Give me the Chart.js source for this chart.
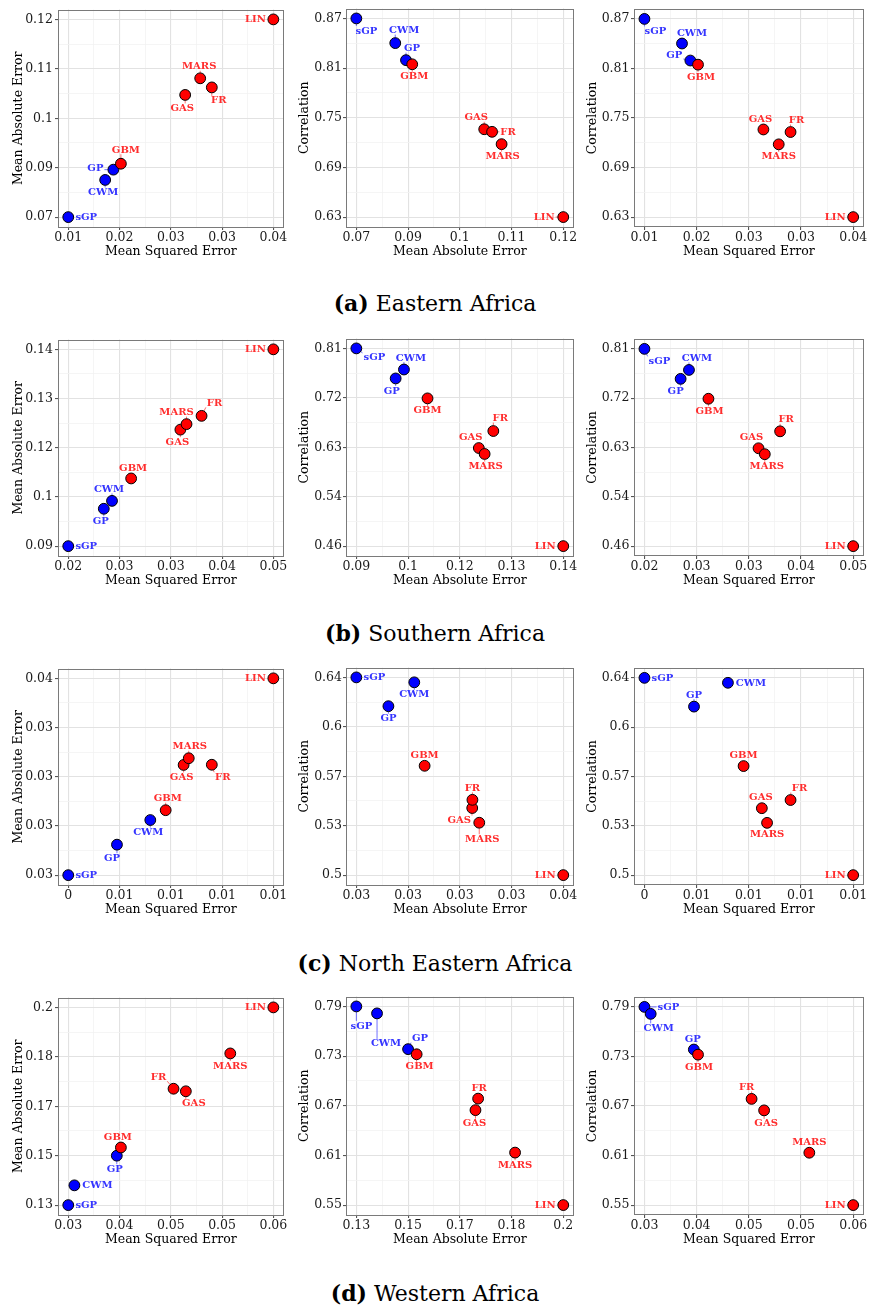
<!DOCTYPE html>
<html><head><meta charset="utf-8">
<script src="https://cdn.jsdelivr.net/npm/chart.js@4.4.1/dist/chart.umd.min.js"></script>
<style>
html,body{margin:0;padding:0;background:#fff;}
body{width:870px;height:1310px;position:relative;overflow:hidden;}
canvas{position:absolute;}
.cap{position:absolute;left:0;width:870px;text-align:center;font-family:"DejaVu Serif",serif;font-size:22px;line-height:22px;color:#000;}
</style></head><body>
<div class="cap" style="top:292px"><b>(a)</b> Eastern Africa</div>
<div class="cap" style="top:622px"><b>(b)</b> Southern Africa</div>
<div class="cap" style="top:952px"><b>(c)</b> North Eastern Africa</div>
<div class="cap" style="top:1282px"><b>(d)</b> Western Africa</div>
<script>
// ---------------- DATA ----------------
const models = ['sGP','CWM','GP','GBM','GAS','FR','MARS','LIN'];
const proposed = ['sGP','CWM','GP'];

const eastMSE  = [0.0100, 0.0154, 0.0166, 0.0177, 0.0271, 0.0310, 0.0293, 0.0400];
const eastMAE  = [0.0700, 0.0794, 0.0820, 0.0835, 0.1009, 0.1028, 0.1051, 0.1200];
const eastCorr = [0.870, 0.8402, 0.8196, 0.8146, 0.7361, 0.7330, 0.7181, 0.630];

const southMSE  = [0.0200, 0.0264, 0.0252, 0.0292, 0.0364, 0.0395, 0.0373, 0.0500];
const southMAE  = [0.0900, 0.1015, 0.0995, 0.1072, 0.1196, 0.1231, 0.1210, 0.1400];
const southCorr = [0.810, 0.7726, 0.7568, 0.7215, 0.6336, 0.6637, 0.6231, 0.460];

const neMSE  = [0.0040, 0.0072, 0.0059, 0.0078, 0.0085, 0.0096, 0.0087, 0.0120];
const neMAE  = [0.0260, 0.0288, 0.02755, 0.0293, 0.0316, 0.03161, 0.03194, 0.0360];
const neCorr = [0.640, 0.6365, 0.6196, 0.5774, 0.5475, 0.5533, 0.5371, 0.500];

const westMSE  = [0.0300, 0.0309, 0.0371, 0.0377, 0.0472, 0.0454, 0.0537, 0.0600];
const westMAE  = [0.1300, 0.1370, 0.1475, 0.1504, 0.1703, 0.1712, 0.1837, 0.2000];
const westCorr = [0.790, 0.7816, 0.7384, 0.7322, 0.6647, 0.6786, 0.6134, 0.550];

// axis extents (first / last tick)
const eastMSERange = [0.01, 0.04], eastMAERange = [0.07, 0.12], eastCorrRange = [0.63, 0.87];
const southMSERange = [0.02, 0.05], southMAERange = [0.09, 0.14], southCorrRange = [0.46, 0.81];
const neMSERange = [0.004, 0.012], neMAERange = [0.026, 0.036], neCorrRange = [0.50, 0.64];
const westMSERange = [0.03, 0.06], westMAERange = [0.13, 0.20], westCorrRange = [0.55, 0.79];

// tick labels
const eastMSETicks  = ['0.01','0.02','0.03','0.03','0.04'];
const eastMAETicks  = ['0.07','0.09','0.1','0.11','0.12'];
const eastCorrTicks = ['0.63','0.69','0.75','0.81','0.87'];
const southMSETicks  = ['0.02','0.03','0.03','0.04','0.05'];
const southMAETicks  = ['0.09','0.1','0.12','0.13','0.14'];
const southCorrTicks = ['0.46','0.54','0.63','0.72','0.81'];
const neMSETicks  = ['0','0.01','0.01','0.01','0.01'];
const neMAETicks  = ['0.03','0.03','0.03','0.03','0.04'];
const neCorrTicks = ['0.5','0.53','0.57','0.6','0.64'];
const westMSETicks  = ['0.03','0.04','0.05','0.05','0.06'];
const westMAETicks  = ['0.13','0.15','0.17','0.18','0.2'];
const westCorrTicks = ['0.55','0.61','0.67','0.73','0.79'];

// ---------------- LAYOUT / STYLE ----------------
const FONT = '"DejaVu Serif", serif';
const RED = '#ff0000', BLUE = '#0000ff';
const RED_TXT = '#ff2e2e', BLUE_TXT = '#3535ff';
// label offsets (px) from point, order of models
const LBL = {
  E1: [[18,0],[-2,12],[-18,-2],[5,-14],[-3,13],[7,13],[-1,-12],[-18,0]],
  E2: [[10,12],[9,-13],[6,-12],[2,12],[-8,-12],[16,0],[1,12],[-19,0]],
  E3: [[11,12],[10,-11],[-16,-6],[3,12],[-3,-11],[6,-12],[0,12],[-18,0]],
  S1: [[18,0],[-3,-12],[-3,12],[2,-11],[-3,12],[13,-13],[-10,-12],[-18,0]],
  S2: [[18,9],[7,-12],[-4,12],[0,12],[-8,-11],[7,-13],[1,12],[-18,0]],
  S3: [[15,12],[8,-12],[-5,12],[1,12],[-7,-11],[6,-12],[2,12],[-18,0]],
  N1: [[18,0],[-2,12],[-5,13],[2,-12],[-2,12],[11,12],[1,-12],[-18,0]],
  N2: [[18,0],[0,12],[0,12],[0,-11],[-13,12],[0,-12],[3,16],[-18,0]],
  N3: [[18,0],[23,0],[0,-12],[0,-11],[-1,-11],[9,-12],[0,11],[-18,0]],
  W1: [[18,0],[23,0],[-2,13],[-3,-11],[8,12],[-15,-12],[0,12],[-18,0]],
  W2: [[5,19],[9,30],[12,-11],[3,12],[-1,13],[1,-11],[0,12],[-18,0]],
  W3: [[24,0],[8,14],[-1,-11],[1,12],[2,13],[-5,-12],[0,-11],[-18,0]]
};
const COLS = [
  {left:0,   yw:58, pr:2, ytp:11, tp:2},
  {left:290, yw:56, pr:3, ytp:7.5,  tp:1},
  {left:580, yw:54, pr:6, ytp:5.5,  tp:1.5}
];
const ROWS = [{top:0,h:270},{top:330,h:269},{top:659,h:269},{top:988,h:270}];

const R = 5.4;
const LFONT = 'bold 10px ' + FONT;

const labelPlugin = {
  id: 'lbl',
  beforeDatasetsDraw(chart, args, opts) {
    const ctx = chart.ctx, meta = chart.getDatasetMeta(0);
    ctx.save();
    ctx.font = LFONT;
    meta.data.forEach((pt, i) => {
      const [dx, dy] = opts.offsets[i];
      const cx = pt.x + dx, cy = pt.y + dy;
      const w = ctx.measureText(models[i]).width;
      const x0 = cx - w/2 - 1, x1 = cx + w/2 + 1, y0 = cy - 4.5, y1 = cy + 4.5;
      const nx = Math.min(Math.max(pt.x, x0), x1), ny = Math.min(Math.max(pt.y, y0), y1);
      const d = Math.hypot(nx - pt.x, ny - pt.y);
      if (d - R > 1.5) {
        const ux = (nx - pt.x)/d, uy = (ny - pt.y)/d;
        ctx.strokeStyle = proposed.includes(models[i]) ? BLUE_TXT : RED_TXT;
        ctx.lineWidth = 0.7;
        ctx.beginPath();
        ctx.moveTo(pt.x + ux*R, pt.y + uy*R);
        ctx.lineTo(nx, ny);
        ctx.stroke();
      }
    });
    ctx.restore();
  },
  afterDatasetsDraw(chart, args, opts) {
    const ctx = chart.ctx, meta = chart.getDatasetMeta(0);
    ctx.save();
    ctx.font = LFONT;
    ctx.textAlign = 'center';
    ctx.textBaseline = 'middle';
    meta.data.forEach((pt, i) => {
      const [dx, dy] = opts.offsets[i];
      ctx.fillStyle = proposed.includes(models[i]) ? BLUE_TXT : RED_TXT;
      ctx.fillText(models[i], pt.x + dx, pt.y + dy + 0.5);
    });
    const a = chart.chartArea;
    ctx.strokeStyle = '#7a7a7a';
    ctx.lineWidth = 1;
    ctx.strokeRect(Math.round(a.left)+0.5, Math.round(a.top)+0.5, Math.round(a.right-a.left)-1, Math.round(a.bottom-a.top)-1);
    ctx.restore();
  }
};

function axisCfg(range, labels, title, isX, col) {
  const span = range[1] - range[0];
  return {
    type: 'linear',
    min: range[0] - 0.05*span,
    max: range[1] + 0.05*span,
    afterBuildTicks: s => { s.ticks = [0,1,2,3,4,5,6,7,8].map(k => ({value: range[0] + k*span/8})); },
    afterFit: s => { if (isX) s.height = 43; else s.width = col.yw; },
    ticks: {
      autoSkip: false, maxRotation: 0, minRotation: 0,
      padding: isX ? 0.5 : col.tp,
      color: '#1a1a1a',
      font: {family: FONT, size: 12.5},
      callback: (v, i) => (i % 2 === 0 ? labels[i/2] : '')
    },
    grid: {
      color: c => (c.index % 2 === 0 ? '#e2e2e2' : '#f2f2f2'),
      lineWidth: c => (c.index % 2 === 0 ? 1.1 : 0.8),
      tickLength: 3,
      tickColor: c => (c.index % 2 === 0 ? '#555' : 'rgba(0,0,0,0)'),
      drawTicks: true
    },
    border: {display: false},
    title: {
      display: true, text: title, color: '#000',
      font: {family: FONT, size: 12.5},
      padding: isX ? {top: 0, bottom: 10.5} : {top: col.ytp, bottom: 0}
    }
  };
}

function makeChart(key, row, colIdx, xs, ys, xRange, yRange, xTicks, yTicks, xTitle, yTitle) {
  const col = COLS[colIdx], rw = ROWS[row];
  const cv = document.createElement('canvas');
  cv.width = 290; cv.height = rw.h;
  cv.style.left = col.left + 'px'; cv.style.top = rw.top + 'px';
  cv.style.width = '290px'; cv.style.height = rw.h + 'px';
  document.body.appendChild(cv);
  const pts = xs.map((x, i) => ({x: x, y: ys[i]}));
  const colors = models.map(m => proposed.includes(m) ? BLUE : RED);
  new Chart(cv, {
    type: 'scatter',
    data: {datasets: [{
      data: pts, backgroundColor: colors, borderColor: '#000', borderWidth: 1,
      pointRadius: R, pointHoverRadius: R
    }]},
    options: {
      responsive: false, animation: false, devicePixelRatio: 1,
      layout: {padding: {top: 5, right: col.pr, left: 0, bottom: 0}},
      plugins: {legend: {display: false}, tooltip: {enabled: false}, lbl: {offsets: LBL[key]}},
      scales: {
        x: axisCfg(xRange, xTicks, xTitle, true, col),
        y: axisCfg(yRange, yTicks, yTitle, false, col)
      }
    },
    plugins: [labelPlugin]
  });
}

const MSE = 'Mean Squared Error', MAE = 'Mean Absolute Error', COR = 'Correlation';
makeChart('E1', 0, 0, eastMSE, eastMAE, eastMSERange, eastMAERange, eastMSETicks, eastMAETicks, MSE, MAE);
makeChart('E2', 0, 1, eastMAE, eastCorr, eastMAERange, eastCorrRange, eastMAETicks, eastCorrTicks, MAE, COR);
makeChart('E3', 0, 2, eastMSE, eastCorr, eastMSERange, eastCorrRange, eastMSETicks, eastCorrTicks, MSE, COR);
makeChart('S1', 1, 0, southMSE, southMAE, southMSERange, southMAERange, southMSETicks, southMAETicks, MSE, MAE);
makeChart('S2', 1, 1, southMAE, southCorr, southMAERange, southCorrRange, southMAETicks, southCorrTicks, MAE, COR);
makeChart('S3', 1, 2, southMSE, southCorr, southMSERange, southCorrRange, southMSETicks, southCorrTicks, MSE, COR);
makeChart('N1', 2, 0, neMSE, neMAE, neMSERange, neMAERange, neMSETicks, neMAETicks, MSE, MAE);
makeChart('N2', 2, 1, neMAE, neCorr, neMAERange, neCorrRange, neMAETicks, neCorrTicks, MAE, COR);
makeChart('N3', 2, 2, neMSE, neCorr, neMSERange, neCorrRange, neMSETicks, neCorrTicks, MSE, COR);
makeChart('W1', 3, 0, westMSE, westMAE, westMSERange, westMAERange, westMSETicks, westMAETicks, MSE, MAE);
makeChart('W2', 3, 1, westMAE, westCorr, westMAERange, westCorrRange, westMAETicks, westCorrTicks, MAE, COR);
makeChart('W3', 3, 2, westMSE, westCorr, westMSERange, westCorrRange, westMSETicks, westCorrTicks, MSE, COR);
</script>
</body></html>
